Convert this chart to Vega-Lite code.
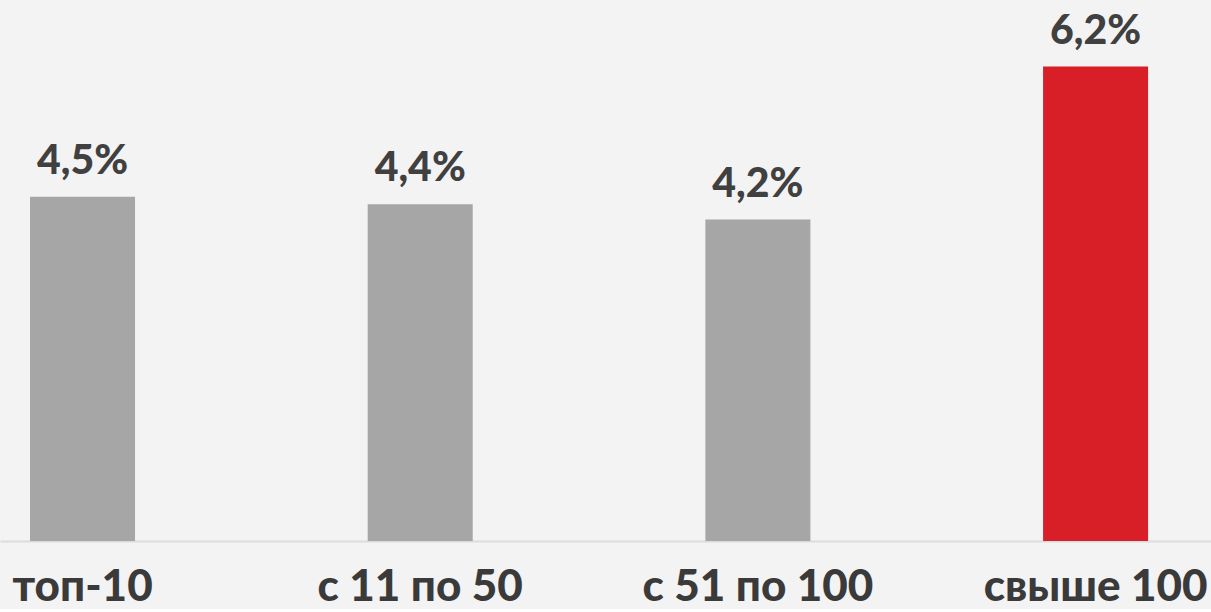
{
  "$schema": "https://vega.github.io/schema/vega-lite/v6.json",
  "width": 1211,
  "height": 541,
  "padding": 0,
  "background": "#f3f3f3",
  "data": {
    "values": [
      {"group": "топ-10", "share": 4.5, "label": "4,5%", "highlight": false},
      {"group": "с 11 по 50", "share": 4.4, "label": "4,4%", "highlight": false},
      {"group": "с 51 по 100", "share": 4.2, "label": "4,2%", "highlight": false},
      {"group": "свыше 100", "share": 6.2, "label": "6,2%", "highlight": true}
    ]
  },
  "encoding": {
    "x": {
      "field": "group",
      "type": "nominal",
      "sort": null,
      "scale": {"paddingInner": 0.689, "paddingOuter": 0.1376, "align": 0.323},
      "axis": {
        "title": null,
        "labelAngle": 0,
        "labelLimit": 0,
        "ticks": false,
        "domainColor": "#dcdcdc",
        "domainWidth": 2,
        "labelFont": "Lato",
        "labelFontWeight": 900,
        "labelFontSize": 44,
        "labelColor": "#3a3a3a",
        "labelPadding": 24
      }
    },
    "y": {
      "field": "share",
      "type": "quantitative",
      "scale": {"domain": [0, 7.07], "nice": false},
      "axis": null
    }
  },
  "layer": [
    {
      "mark": {"type": "bar"},
      "encoding": {
        "color": {
          "field": "highlight",
          "type": "nominal",
          "scale": {"domain": [false, true], "range": ["#a6a6a6", "#d81e27"]},
          "legend": null
        }
      }
    },
    {
      "mark": {
        "type": "text",
        "baseline": "alphabetic",
        "dy": -23,
        "font": "Lato",
        "fontWeight": 900,
        "fontSize": 41,
        "color": "#404040"
      },
      "encoding": {"text": {"field": "label"}}
    }
  ],
  "config": {
    "view": {"stroke": null}
  }
}
